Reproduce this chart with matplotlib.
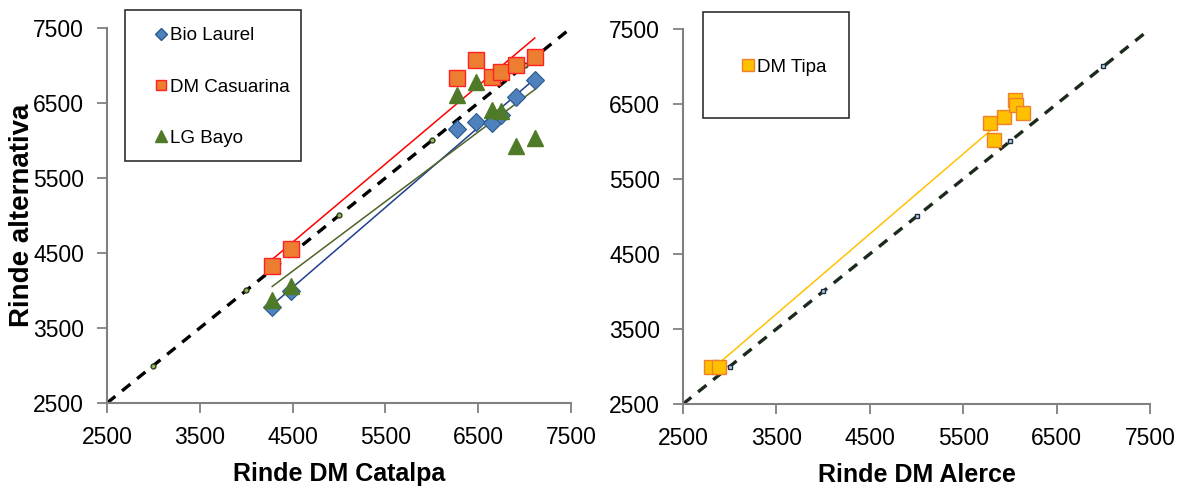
import matplotlib
matplotlib.use("Agg")
import matplotlib.pyplot as plt
from matplotlib.lines import Line2D
from matplotlib.patches import Rectangle
import numpy as np

plt.rcParams['font.family'] = ['Liberation Sans Narrow', 'DejaVu Sans Condensed', 'Liberation Sans', 'DejaVu Sans']

# datos
catalpa = [4280, 4480, 6270, 6480, 6650, 6750, 6910, 7110]
bio_laurel = [3780, 3990, 6150, 6240, 6230, 6340, 6580, 6800]
dm_casuarina = [4330, 4550, 6830, 7070, 6840, 6910, 7000, 7110]
lg_bayo = [3870, 4060, 6600, 6780, 6400, 6390, 5930, 6030]

alerce = [2800, 2890, 5790, 5830, 5940, 6050, 6070, 6140]
dm_tipa = [3000, 3000, 6250, 6020, 6330, 6550, 6490, 6380]

ref_11 = [3000, 4000, 5000, 6000, 7000]
ticks = [2500, 3500, 4500, 5500, 6500, 7500]

fig = plt.figure(figsize=(11.79, 4.90), dpi=100)
ax1 = fig.add_axes([107/1179, 87/490, 464/1179, 375/490])
ax2 = fig.add_axes([683/1179, 86/490, 467/1179, 375/490])

def estilo(ax):
    ax.set_xlim(2500, 7500)
    ax.set_ylim(2500, 7500)
    ax.set_xticks(ticks)
    ax.set_yticks(ticks)
    for s in ['top', 'right']:
        ax.spines[s].set_visible(False)
    for s in ['left', 'bottom']:
        ax.spines[s].set_color('#808080')
        ax.spines[s].set_linewidth(1.5)
    ax.tick_params(direction='out', length=7, width=1.3, color='#808080',
                   labelsize=16.5, pad=9.5)

def tendencia(ax, x, y, color):
    m, b = np.polyfit(x, y, 1)
    xs = np.array([min(x), max(x)])
    ax.plot(xs, m * xs + b, color=color, lw=1.1, zorder=2)

# ---- grafico izquierdo ----
ax1.plot([2500, 7500], [2500, 7500], ls=(0, (3.2, 2.6)), color='black', lw=2.4, zorder=1)
ax1.plot(ref_11, ref_11, ls='none', marker='o', ms=3.5, mfc='#9bbb59', mec='#2f3f1f', zorder=1)

ax1.plot(catalpa, bio_laurel, ls='none', marker='D', ms=9, mfc='#4f81bd', mec='#2c5a8f', mew=0.8, zorder=3)
ax1.plot(catalpa, dm_casuarina, ls='none', marker='s', ms=11, mfc='#ed7d31', mec='#ff2020', mew=1.0, zorder=3)
ax1.plot(catalpa, lg_bayo, ls='none', marker='^', ms=12, mfc='#4f7a28', mec='#4f7a28', zorder=4)

tendencia(ax1, catalpa, bio_laurel, '#1f3f8f')
tendencia(ax1, catalpa, dm_casuarina, '#ff0000')
tendencia(ax1, catalpa, lg_bayo, '#4f6228')

estilo(ax1)
ax1.set_xlabel('Rinde DM Catalpa', fontsize=18, fontweight='bold', va='top')
ax1.xaxis.set_label_coords(0.5, -0.157)
ax1.set_ylabel('Rinde alternativa', fontsize=20, fontweight='bold',
               family=['Liberation Sans', 'DejaVu Sans'])
ax1.yaxis.set_label_coords(-0.155, 0.5)

# ---- grafico derecho ----
ax2.plot([2500, 7500], [2500, 7500], ls=(0, (3.2, 2.6)), color='#1c2a1c', lw=2.4, zorder=1)
ax2.plot(ref_11, ref_11, ls='none', marker='s', ms=3.5, mfc='#b8d4f0', mec='#1f2f3f', zorder=1)
ax2.plot(alerce, dm_tipa, ls='none', marker='s', ms=10.5, mfc='#ffc000', mec='#f08030', mew=1.0, zorder=3)
tendencia(ax2, alerce, dm_tipa, '#ffc000')

estilo(ax2)
ax2.set_xlabel('Rinde DM Alerce', fontsize=18, fontweight='bold', va='top')
ax2.xaxis.set_label_coords(0.5, -0.157)

# ---- cajas de leyenda ----
fig.patches.append(Rectangle((125/1179, 329/490), 176/1179, 151/490, transform=fig.transFigure,
                             fill=False, ec='#303030', lw=1.2))
fig.patches.append(Rectangle((703/1179, 372/490), 146/1179, 106/490, transform=fig.transFigure,
                             fill=False, ec='#303030', lw=1.2))

h1 = [Line2D([], [], ls='none', marker='D', ms=6, mfc='#4f81bd', mec='#2c5a8f'),
      Line2D([], [], ls='none', marker='s', ms=7, mfc='#ed7d31', mec='#ff2020'),
      Line2D([], [], ls='none', marker='^', ms=8, mfc='#4f7a28', mec='#4f7a28')]
fig.legend(h1, ['Bio Laurel', 'DM Casuarina', 'LG Bayo'], loc='upper left',
           bbox_to_anchor=(146/1179, 1 - 18/490), frameon=False, fontsize=13.5,
           handlelength=0.6, handletextpad=0.2, labelspacing=1.82, borderpad=0)

h2 = [Line2D([], [], ls='none', marker='s', ms=8, mfc='#ffc000', mec='#f08030')]
fig.legend(h2, ['DM Tipa'], loc='upper left', bbox_to_anchor=(733/1179, 1 - 49/490),
           frameon=False, fontsize=13.5, handlelength=0.6, handletextpad=0.2, borderpad=0)

fig.savefig('out.png', dpi=100)
